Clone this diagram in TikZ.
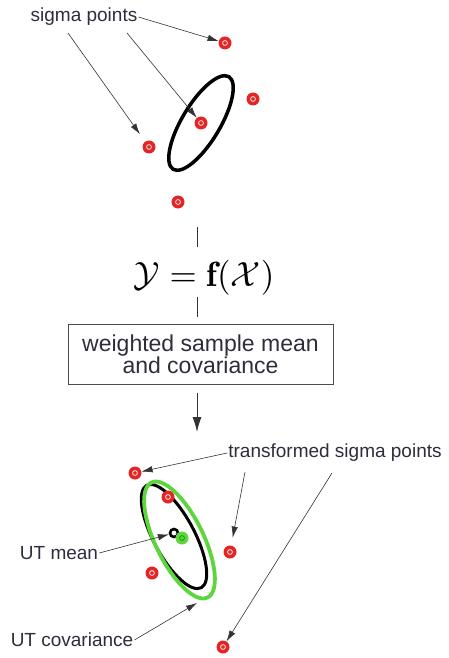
\documentclass[tikz,border=0pt]{standalone}
\usepackage{fontspec}
\newfontfamily\labelfont{Liberation Sans}
\definecolor{ukfred}{RGB}{228,37,37}
\definecolor{ukfgreen}{RGB}{92,214,60}
\definecolor{ukftext}{RGB}{45,45,60}
\usetikzlibrary{arrows.meta,calc}

\begin{document}
\begin{tikzpicture}[x=1pt, y=-1pt,
  sigpt/.style={circle, fill=ukfred, minimum size=13pt, inner sep=0pt,
                path picture={\draw[white, line width=0.7pt]
                  (path picture bounding box.center) circle (2.4pt);}},
  lbl/.style={font=\labelfont\fontsize{19}{21}\selectfont, text=ukftext, inner sep=1pt},
  ptr/.style={-{Latex[length=11pt, width=6.5pt]}, draw=black!80, line width=0.6pt},
  flowline/.style={draw=black!80, line width=0.9pt},
  wbox/.style={draw=black!70, line width=1pt, minimum width=265pt,
               minimum height=60pt, align=center, inner sep=0pt,
               font=\labelfont\fontsize{23}{21}\selectfont, text=ukftext}
]
\useasboundingbox (0,0) rectangle (448,658);

% prior ellipse and sigma points
\draw[line width=3.5pt, rotate around={59:(201,123)}] (201,123) ellipse [x radius=54, y radius=19];
\node[sigpt] (s0) at (201,123) {};
\node[sigpt] (s1) at (225,43)  {};
\node[sigpt] (s2) at (253,99)  {};
\node[sigpt] (s3) at (149,147) {};
\node[sigpt] (s4) at (178,202) {};

\node[lbl] (sp) at (84,17) {sigma points};
\coordinate (spa) at (68,33);
\coordinate (spb) at (127,33);
\draw[ptr] (sp.east) -- (s1);
\draw[ptr, shorten >=9pt] (spa) -- (s3);
\draw[ptr] (spb) -- (s0);

% transform
\coordinate (ta) at (197,227);
\coordinate (tb) at (197,297);
\draw[flowline] (ta) -- ++(0,20);
\node[scale=3.5] (fx) at (204,278) {$\mathcal{Y} = \mathbf{f}(\mathcal{X})$};
\draw[flowline] (tb) -- ++(0,20);

\node[wbox] (wm) at (200.5,354) {weighted sample mean\\and covariance};
\coordinate (da) at (197,393);
\draw[flowline, -{Latex[length=15pt, width=9pt]}] (da) -- ++(0,39);

% transformed ellipses and points
\draw[line width=3pt, rotate around={-62:(174,536.5)}] (174,536.5) ellipse [x radius=58, y radius=20.5];
\draw[ukfgreen, line width=3.8pt, rotate around={-64:(179.5,540)}] (179.5,540) ellipse [x radius=64, y radius=24];

\node[sigpt] (u0) at (135,473) {};
\node[sigpt] (u1) at (168,497) {};
\node[sigpt] (u2) at (230,552) {};
\node[sigpt] (u3) at (152,573) {};
\node[sigpt] (u4) at (223,647) {};
\node[circle, draw, line width=2.6pt, minimum size=8pt, inner sep=0pt] (bm) at (174,533) {};
\node[circle, fill=ukfgreen, minimum size=13pt, inner sep=0pt,
      path picture={\draw[green!50!black, line width=0.6pt]
        (path picture bounding box.center) circle (2.4pt);}] (gm) at (182,538) {};

\node[lbl] (tsp) at (335,453) {transformed sigma points};
\node[lbl] (utm) at (59,553)  {UT mean};
\node[lbl] (utc) at (72,640)  {UT covariance};
\coordinate (tspb) at (245,472);
\coordinate (tspc) at (332,473);
\coordinate (cov) at (197,603);
\draw[ptr] (tsp.west) -- (u0);
\draw[ptr, shorten >=8pt] (tspb) -- (u2);
\draw[ptr] (tspc) -- (u4);
\draw[ptr] (utm.east) -- (bm);
\draw[ptr] (utc.east) -- (cov);
\end{tikzpicture}
\end{document}
